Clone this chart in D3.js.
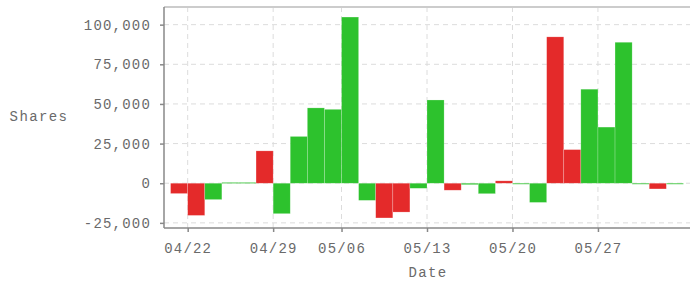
<!DOCTYPE html>
<html>
<head>
<meta charset="utf-8">
<script src="https://cdn.jsdelivr.net/npm/d3@7"></script>
<style>
  body { margin: 0; background: #fff; }
  .grid line { stroke: #dcdcdc; stroke-dasharray: 5,4; }
  .axis text { font-family: "Liberation Mono", monospace; font-size: 14px; fill: #6a6a6a; letter-spacing: 1.2px; }
  .axis path, .axis line { stroke: #888; stroke-width: 1.5; }
  .label { font-family: "Liberation Mono", monospace; font-size: 14px; fill: #6a6a6a; letter-spacing: 1.4px; }
</style>
</head>
<body>
<svg width="690" height="287"></svg>
<script>
// trading days (bar i spans the date i .. i+1 slot)
const dates = ["04/19","04/22","04/23","04/24","04/25","04/26","04/29","04/30","05/02","05/03",
  "05/06","05/07","05/08","05/09","05/10","05/13","05/14","05/15","05/16","05/17",
  "05/20","05/21","05/22","05/23","05/24","05/27","05/28","05/29","05/30","05/31"];
const shares = [-6500, -20300, -10300, 500, 500, 20400, -19200, 29500, 47500, 46600,
  104800, -10800, -21900, -18200, -3200, 52500, -4400, -900, -6600, 1500,
  -500, -12100, 92300, 21200, 59300, 35400, 88900, 0, -3600, -600];
const dir = ["r","r","g","g","g","r","g","g","g","g",
  "g","g","r","r","g","g","r","g","g","r",
  "g","g","r","r","g","g","g","g","r","g"];
const xTickDates = ["04/22","04/29","05/06","05/13","05/20","05/27"];
const yTicks = [-25000, 0, 25000, 50000, 75000, 100000];

const svg = d3.select("svg");
const mLeft = 164, mRight = 690, mTop = 7, mBottom = 228;
const pad = 0.385;

const x = d3.scaleLinear().domain([-pad, dates.length + pad]).range([mLeft, mRight]);
const ext = d3.extent(shares);
const m = (ext[1] - ext[0]) * 0.05;
const y = d3.scaleLinear().domain([ext[0] - m, ext[1] + m]).range([mBottom, mTop]);

const tickIdx = xTickDates.map(d => dates.indexOf(d));

// grid
const grid = svg.append("g").attr("class", "grid");
grid.selectAll(".h").data(yTicks).enter().append("line")
  .attr("x1", mLeft).attr("x2", mRight)
  .attr("y1", d => y(d)).attr("y2", d => y(d));
grid.selectAll(".v").data(tickIdx).enter().append("line")
  .attr("x1", d => x(d)).attr("x2", d => x(d))
  .attr("y1", mTop).attr("y2", mBottom);

// bars
svg.append("g").selectAll("rect").data(shares).enter().append("rect")
  .attr("x", (d, i) => x(i))
  .attr("width", x(1) - x(0))
  .attr("y", d => y(Math.max(0, d)))
  .attr("height", d => Math.max(1, Math.abs(y(d) - y(0))))
  .attr("fill", (d, i) => dir[i] === "r" ? "#e42a2a" : "#2dc22d")
  .attr("stroke", "#fff").attr("stroke-opacity", 0.35).attr("stroke-width", 0.6);

// top border
svg.append("line").attr("x1", mLeft).attr("x2", mRight).attr("y1", mTop).attr("y2", mTop)
  .attr("stroke", "#ccc").attr("stroke-width", 2);

// axes
svg.append("g").attr("class", "axis")
  .attr("transform", `translate(${mLeft},0)`)
  .call(d3.axisLeft(y).tickValues(yTicks).tickSize(4).tickPadding(9)
    .tickFormat(d => d3.format(",")(d).replace("\u2212", "-")))
  .call(g => g.select(".domain").attr("d", `M0,${mTop}V${mBottom}`));

svg.append("g").attr("class", "axis")
  .attr("transform", `translate(0,${mBottom})`)
  .call(d3.axisBottom(x).tickValues(tickIdx).tickSize(4).tickPadding(11)
    .tickFormat(i => dates[i]))
  .call(g => g.select(".domain").attr("d", `M${mLeft},0H${mRight}`));

svg.append("text").attr("class", "label")
  .attr("x", 39).attr("y", 117).attr("text-anchor", "middle").attr("dominant-baseline", "middle")
  .text("Shares");
svg.append("text").attr("class", "label")
  .attr("x", 428).attr("y", 273).attr("text-anchor", "middle").attr("dominant-baseline", "middle")
  .text("Date");
</script>
</body>
</html>
